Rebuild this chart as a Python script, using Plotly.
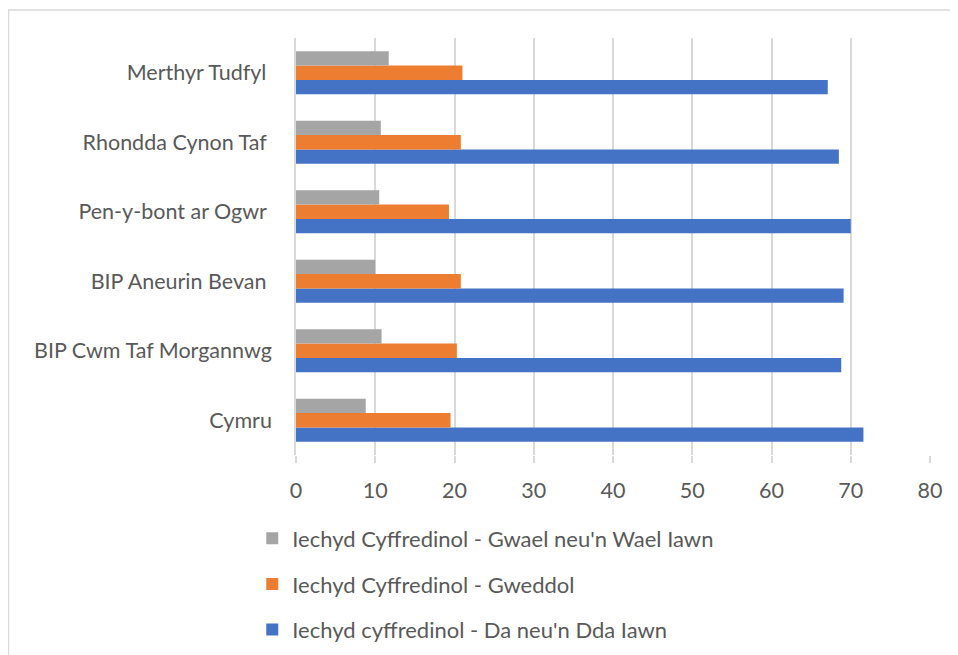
import plotly.graph_objects as go

categories = ["Cymru", "BIP Cwm Taf Morgannwg", "BIP Aneurin Bevan ",
              "Pen-y-bont ar Ogwr ", "Rhondda Cynon Taf ", "Merthyr Tudfyl "]
da_values = [71.6, 68.8, 69.1, 70.0, 68.5, 67.1]
gweddol_values = [19.5, 20.3, 20.8, 19.3, 20.8, 21.0]
gwael_values = [8.8, 10.8, 10.0, 10.5, 10.7, 11.7]

series_names = ["Iechyd cyffredinol - Da neu'n Dda Iawn",
                "Iechyd Cyffredinol - Gweddol",
                "Iechyd Cyffredinol - Gwael neu'n Wael Iawn"]
series_values = [da_values, gweddol_values, gwael_values]
colors = ["#4472C4", "#ED7D31", "#A5A5A5"]
x_ticks = [0, 10, 20, 30, 40, 50, 60, 70, 80]

fig = go.Figure()
for i, (name, vals, col) in enumerate(zip(series_names, series_values, colors)):
    fig.add_trace(go.Bar(
        y=categories, x=vals, name=name, orientation="h",
        marker=dict(color=col, line=dict(width=0)),
        legendgroup=f"g{2 - i}", legendrank=1000 - i,
    ))

txt = "#595959"
L, T, PW, PH = 288, 30, 634, 417
fig.update_layout(
    width=958, height=655,
    barmode="group", bargap=0.38, bargroupgap=0,
    paper_bgcolor="white", plot_bgcolor="white",
    margin=dict(l=L, r=958 - L - PW, t=T, b=655 - T - PH),
    font=dict(family="Lato, 'Open Sans', sans-serif", color=txt, size=21.5),
    legend=dict(
        traceorder="grouped", orientation="v",
        x=-0.069, xanchor="left", y=-0.15, yanchor="top",
        font=dict(size=22, color=txt), tracegroupgap=14,
        itemwidth=30,
    ),
    xaxis=dict(
        range=[0, 80], tickvals=x_ticks, showgrid=True,
        gridcolor="#D9D9D9", gridwidth=1.5, zeroline=False,
        ticks="outside", ticklen=7, tickcolor="#D9D9D9", tickwidth=1.5,
        ticklabelstandoff=9, showline=False,
        tickfont=dict(size=21.5, color=txt),
    ),
    yaxis=dict(
        showgrid=False, zeroline=False, showline=True,
        linecolor="#D9D9D9", linewidth=1.5, ticks="",
        ticklabelstandoff=18, tickfont=dict(size=21.5, color=txt),
    ),
    shapes=[dict(
        type="rect", xref="paper", yref="paper",
        x0=(0.5 - L) / PW, x1=1.2, y0=-0.7, y1=1 + (T - 2) / PH,
        line=dict(color="#D9D9D9", width=1.5), fillcolor="rgba(0,0,0,0)",
        layer="below",
    )],
)

fig.write_html("out.html")
